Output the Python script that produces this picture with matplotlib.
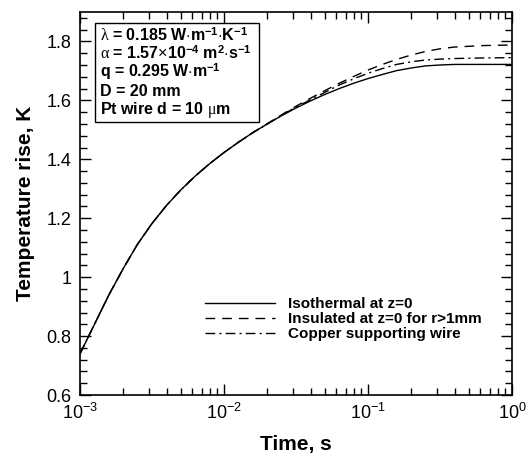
import numpy as np
import matplotlib
matplotlib.use("Agg")
import matplotlib.pyplot as plt
from matplotlib.patches import Rectangle
from matplotlib.ticker import LogLocator, MultipleLocator, NullFormatter

plt.rcParams["font.family"] = ["Liberation Sans", "DejaVu Sans"]
plt.rcParams["mathtext.fontset"] = "custom"
plt.rcParams["mathtext.rm"] = "Liberation Sans"
plt.rcParams["mathtext.bf"] = "Liberation Sans:bold"
plt.rcParams["mathtext.it"] = "Liberation Serif"

# time (s)
time_s = [1.00e-3, 1.26e-3, 1.58e-3, 2.00e-3, 2.51e-3, 3.16e-3, 3.98e-3,
          5.01e-3, 6.31e-3, 7.94e-3, 1.00e-2, 1.26e-2, 1.58e-2, 2.00e-2,
          2.51e-2, 3.16e-2, 3.98e-2, 5.01e-2, 6.31e-2, 7.94e-2, 0.100,
          0.126, 0.158, 0.200, 0.251, 0.316, 0.398, 0.631, 1.00]

# temperature rise (K) for each case
isothermal = [0.740, 0.840, 0.938, 1.030, 1.112, 1.182, 1.243, 1.296,
              1.343, 1.385, 1.423, 1.458, 1.490, 1.520, 1.548, 1.574,
              1.598, 1.620, 1.640, 1.658, 1.674, 1.688, 1.701, 1.710,
              1.717, 1.720, 1.722, 1.722, 1.722]
insulated = [0.740, 0.840, 0.938, 1.030, 1.112, 1.182, 1.243, 1.296,
             1.343, 1.385, 1.423, 1.458, 1.490, 1.521, 1.551, 1.580,
             1.607, 1.633, 1.658, 1.681, 1.703, 1.722, 1.739, 1.754,
             1.766, 1.775, 1.781, 1.786, 1.788]
copper = [0.740, 0.840, 0.938, 1.030, 1.112, 1.182, 1.243, 1.296,
          1.343, 1.385, 1.423, 1.458, 1.490, 1.520, 1.549, 1.577,
          1.602, 1.627, 1.652, 1.673, 1.692, 1.708, 1.722, 1.731,
          1.737, 1.740, 1.742, 1.744, 1.745]

labels = ["Isothermal at z=0", "Insulated at z=0 for r>1mm",
          "Copper supporting wire"]

info_lines = [
    r"$\lambda$ = 0.185 W$\cdot$m$^{\mathbf{-1}}$$\cdot$K$^{\mathbf{-1}}$",
    r"$\alpha$ = 1.57$\times$10$^{\mathbf{-4}}$ m$^{\mathbf{2}}$$\cdot$s$^{\mathbf{-1}}$",
    r"q = 0.295 W$\cdot$m$^{\mathbf{-1}}$",
    "D = 20 mm",
    r"Pt wire d = 10 $\mu$m",
]

fig = plt.figure(figsize=(5.32, 4.59), dpi=100)
ax = fig.add_axes([0.1504, 0.1394, 0.812, 0.8345])

ax.plot(time_s, isothermal, color="black", lw=1.0, ls="-", label=labels[0])
ax.plot(time_s, insulated, color="black", lw=1.0, ls=(0, (7, 5)), label=labels[1])
ax.plot(time_s, copper, color="black", lw=1.0, ls=(0, (7, 3, 1.5, 3)), label=labels[2])

ax.set_xscale("log")
ax.set_xlim(1e-3, 1)
ax.set_ylim(0.6, 1.9)
ax.yaxis.set_minor_locator(MultipleLocator(0.04))
ax.set_yticks([0.6, 0.8, 1.0, 1.2, 1.4, 1.6, 1.8])
ax.set_yticklabels(["0.6", "0.8", "1", "1.2", "1.4", "1.6", "1.8"])
ax.xaxis.set_minor_locator(LogLocator(base=10, subs=np.arange(2, 10)))
ax.xaxis.set_minor_formatter(NullFormatter())

ax.tick_params(which="both", direction="in", top=True, right=True,
               labelsize=13, width=1.0)
ax.tick_params(which="major", length=8, pad=6)
ax.tick_params(which="minor", length=5)
for s in ax.spines.values():
    s.set_linewidth(1.2)

ax.set_xlabel("Time, s", fontsize=15, fontweight="bold", labelpad=8)
ax.set_ylabel("Temperature rise, K", fontsize=15, fontweight="bold", labelpad=8)

# parameter box
ax.add_patch(Rectangle((0.0347, 0.713), 0.379, 0.258, transform=ax.transAxes,
                       fc="white", ec="black", lw=1.0, zorder=3))
for i, line in enumerate(info_lines):
    ax.text(0.0463, 0.925 - i * 0.048, line, transform=ax.transAxes,
            fontsize=11.5, fontweight="bold", va="baseline", ha="left", zorder=4)

ax.legend(loc="lower left", bbox_to_anchor=(0.275, 0.125), frameon=False,
          prop={"weight": "bold", "size": 11},
          handlelength=4.6, handletextpad=0.85, labelspacing=0.05,
          borderaxespad=0)

fig.savefig("out.png", dpi=100)
